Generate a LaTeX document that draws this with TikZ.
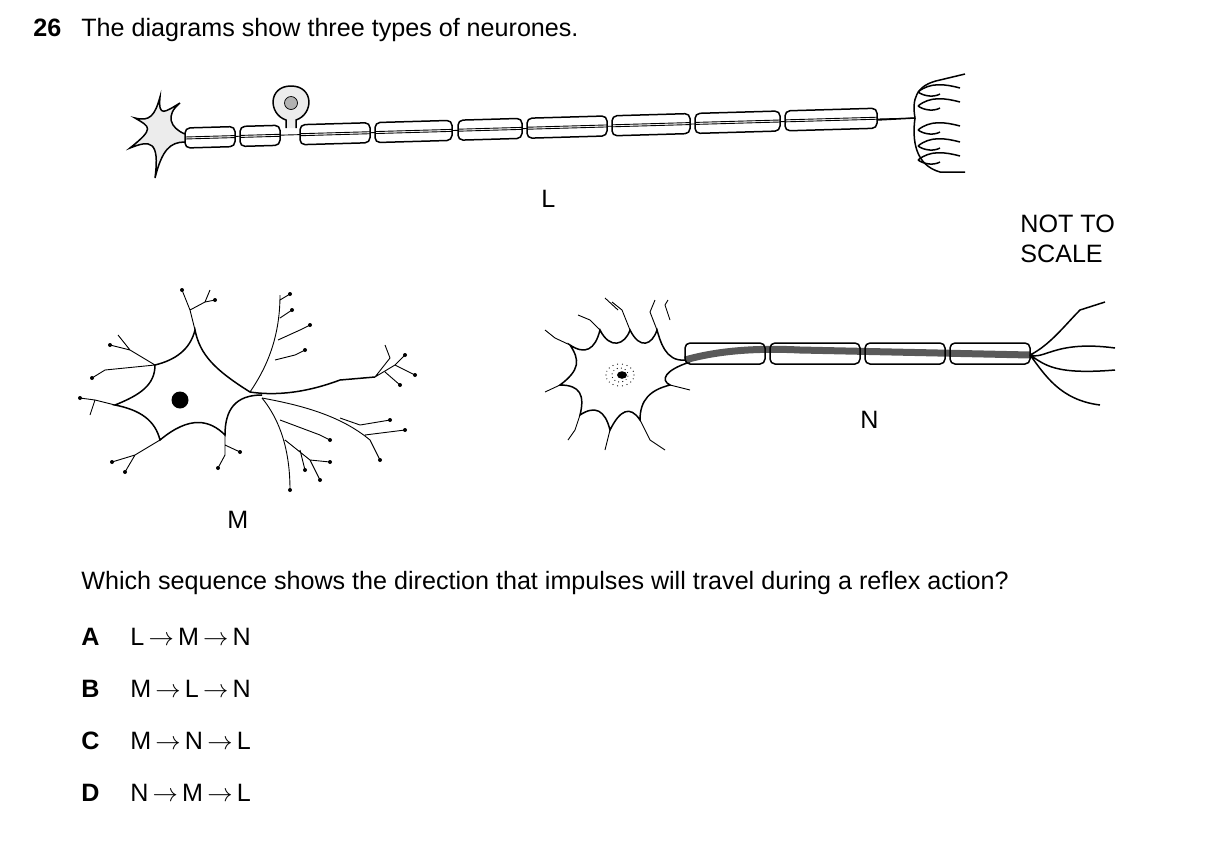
\documentclass[tikz,border=0pt]{standalone}
\usepackage{fontspec}
\setmainfont{Liberation Sans}
\usetikzlibrary{positioning,shapes.geometric}
\tikzset{
  txt/.style={anchor=base west,inner sep=0pt,font=\fontsize{14.3}{17}\selectfont},
  nrv/.style={line width=0.03cm},
  fib/.style={line width=0.018cm},
  sheath/.style={draw,line width=0.03cm,rounded corners=0.1cm,fill=white},
  tip/.style={circle,fill=black,inner sep=0pt,minimum size=0.08cm},
}
\begin{document}
\begin{tikzpicture}[x=0.02cm,y=-0.02cm]
\useasboundingbox (0,0) rectangle (1209,856);
% Question text
\node[txt] (qnum) at (33,36) {\textbf{26}};
\node[txt] (qtext) at (81,36) {The diagrams show three types of neurones.};
\node[txt] (lblL) at (541,207) {L};
\node[txt] (nts1) at (1020,232) {NOT TO};
\node[txt] (nts2) at (1020,262) {SCALE};
\node[txt] (lblM) at (227,528) {M};
\node[txt] (lblN) at (860,428) {N};
\node[txt] (which) at (81,589) {Which sequence shows the direction that impulses will travel during a reflex action?};
\foreach \k/\s [count=\i] in {A/{L\,$\rightarrow$\,M\,$\rightarrow$\,N},B/{M\,$\rightarrow$\,L\,$\rightarrow$\,N},C/{M\,$\rightarrow$\,N\,$\rightarrow$\,L},D/{N\,$\rightarrow$\,M\,$\rightarrow$\,L}}{
  \node[txt] (key\k) at (81,593+52*\i) {\textbf{\k}};
  \node[txt] (opt\k) at (130,593+52*\i) {\s};
}

% Neurone L : axon and sheaths
\coordinate (Lstart) at (175,138);
\coordinate (Lend) at (915,118);
\draw[fib,fill=gray!30] (Lstart) -- (Lend);
\foreach \a/\b in {185/235,240/280,300/370,375/452,458/522,527/607,612/690,695/780,785/877}{
  \pgfmathsetmacro{\ya}{138-(\a-185)*20/700}
  \pgfmathsetmacro{\yb}{138-(\b-185)*20/700}
  \draw[sheath] (\a,\ya-10) -- (\b,\yb-10) -- (\b,\yb+10) -- (\a,\ya+10) -- cycle;
  \draw[fib] (\a,\ya-1) -- (\b,\yb-1) (\a,\ya+1) -- (\b,\yb+1);
}
% cell body on a stalk
\draw[nrv,fill=gray!15] (286,128) -- (286,120) .. controls (268,114) and (268,86) .. (291,86)
  .. controls (314,86) and (314,114) .. (296,120) -- (296,128);
\node[circle,draw,fill=gray!60,minimum size=0.26cm,inner sep=0pt] (Lnuc) at (291,103) {};
% dendrite star
\draw[nrv,fill=gray!15] (185,134) .. controls (170,128) and (165,115) .. (180,103)
  .. controls (165,112) and (158,118) .. (160,97) .. controls (155,115) and (150,122) .. (135,118)
  .. controls (150,127) and (155,128) .. (130,148) .. controls (150,140) and (160,140) .. (155,178)
  .. controls (162,150) and (170,142) .. (185,142) -- cycle;
% terminal branches
\draw[nrv] (877,120) -- (915,118) .. controls (912,100) and (915,85) .. (940,80) -- (965,74);
\draw[nrv] (915,118) .. controls (912,140) and (915,165) .. (940,172) -- (965,172);
\foreach \y in {92,106,130,146,160}{
  \draw[nrv] (918,\y) .. controls (930,\y-10) and (945,\y-8) .. (960,\y-4);
  \draw[nrv] (918,\y) .. controls (925,\y+5) and (935,\y+5) .. (940,\y+2);
}

% Neurone M
\coordinate (Mbody) at (195,400);
\draw[nrv] (155,365) .. controls (175,360) and (190,350) .. (195,330) .. controls (200,355) and (215,370) .. (250,392)
  .. controls (270,395) and (300,395) .. (340,380) -- (375,377)
  (262,395) .. controls (235,395) and (225,410) .. (225,435)
  .. controls (210,420) and (190,415) .. (160,440)
  .. controls (155,420) and (140,410) .. (115,405)
  .. controls (140,395) and (155,385) .. (155,365);
\node[circle,fill=black,minimum size=0.34cm,inner sep=0pt] (Mnuc) at (180,400) {};
\draw[fib] (195,330) -- (190,310) -- (182,290) (190,310) -- (205,302) -- (210,290) (205,302) -- (215,300);
\draw[fib] (250,392) .. controls (265,370) and (280,340) .. (280,295) (278,340) -- (300,330) -- (310,325)
  (275,360) -- (295,355) -- (305,350) (280,318) -- (292,310) (280,300) -- (290,294);
\draw[fib] (375,377) -- (395,365) -- (405,355) (395,365) -- (415,375) (385,372) -- (400,385) (375,377) -- (390,358) -- (385,345);
\draw[fib] (155,365) -- (130,350) -- (110,345) (130,350) -- (118,335) (155,365) -- (105,370) -- (92,378);
\draw[fib] (115,405) -- (95,400) -- (80,398) (95,400) -- (90,415) (160,440) -- (135,455) -- (112,462) (135,455) -- (125,472);
\draw[fib] (225,435) -- (225,455) -- (218,468) (225,445) -- (240,452);
\draw[fib] (262,398) .. controls (280,420) and (290,450) .. (290,490) (285,440) -- (310,460) -- (320,480) (310,460) -- (330,462)
  (280,420) -- (320,435) -- (330,440) (300,450) -- (305,470);
\draw[fib] (262,398) .. controls (300,405) and (340,415) .. (370,440) -- (380,460) (340,418) -- (360,425) -- (390,420) (365,435) -- (405,430);
\foreach \p in {(182,290),(215,300),(310,325),(305,350),(292,310),(290,294),(405,355),(415,375),(400,385),(110,345),(92,378),
  (80,398),(112,462),(218,468),(240,452),(290,490),(320,480),(330,462),(330,440),(305,470),(380,460),(390,420),(405,430),(125,472)}{
  \node[tip] at \p {};
}

% Neurone N : cell body
\draw[nrv] (685,360) .. controls (665,362) and (660,340) .. (657,330) .. controls (652,345) and (640,350) .. (630,330)
  .. controls (625,345) and (610,350) .. (600,330) .. controls (595,350) and (585,355) .. (570,345)
  .. controls (580,360) and (580,370) .. (560,385) .. controls (580,385) and (585,395) .. (580,415)
  .. controls (595,405) and (605,410) .. (610,430) .. controls (620,410) and (630,405) .. (640,420)
  .. controls (640,400) and (650,390) .. (670,385) .. controls (660,380) and (665,370) .. (690,362);
\foreach \i in {0,20,...,340}{\fill ({620+14*cos(\i)},{375+11*sin(\i)}) circle (0.012cm);}
\foreach \i in {10,40,...,340}{\fill ({620+8*cos(\i)},{375+7*sin(\i)}) circle (0.012cm);}
\node[ellipse,fill=black,minimum width=0.2cm,minimum height=0.15cm,inner sep=0pt] (Nnuc) at (622,375) {};
\draw[fib] (657,330) -- (650,312) -- (655,300) (630,330) -- (622,310) -- (612,302) (600,330) -- (590,320) -- (578,315)
  (570,345) -- (555,338) -- (545,330) (560,385) -- (545,392) (580,415) -- (575,430) -- (568,440) (610,430) -- (605,450)
  (640,420) -- (650,440) -- (665,450) (670,385) -- (690,390) (618,310) -- (605,298) (670,320) -- (665,305) -- (668,300);
% axon with sheaths
\draw[line width=0.14cm,gray!70!black] (685,360) .. controls (720,350) and (760,348) .. (800,350) -- (1030,355);
\foreach \a/\b in {685/765,770/860,865/945,950/1030}{
  \draw[sheath,fill=none] (\a,343) rectangle (\b,364);
}
\draw[nrv] (1030,355) .. controls (1050,345) and (1065,325) .. (1080,310) -- (1105,302)
  (1030,355) .. controls (1045,360) and (1055,340) .. (1115,348)
  (1030,355) .. controls (1045,365) and (1055,375) .. (1115,370)
  (1030,355) .. controls (1045,375) and (1060,400) .. (1100,405);
\end{tikzpicture}
\end{document}
